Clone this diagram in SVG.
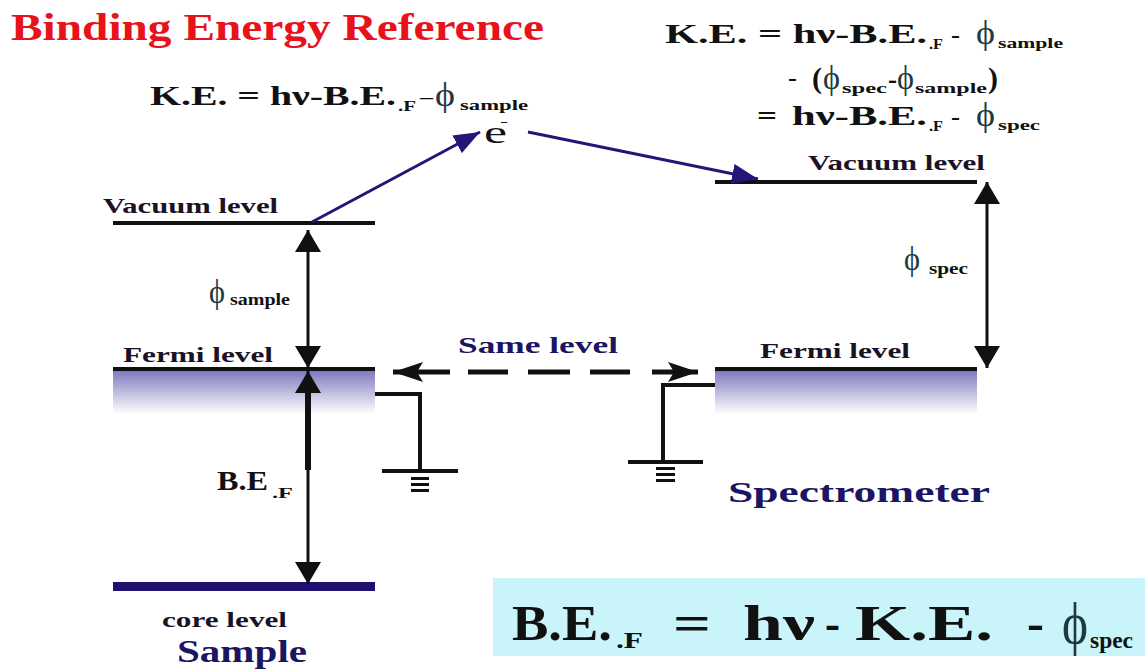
<svg xmlns="http://www.w3.org/2000/svg" width="1145" height="669" viewBox="0 0 1145 669">
<style>
.t{font-family:"Liberation Serif","Times New Roman",serif;font-weight:bold;fill:#111}
.r{font-weight:normal}
.phi{font-family:"Liberation Serif","DejaVu Serif","Times New Roman",serif;font-weight:normal;fill:#1f3a3e}
.navy{fill:#1b1562}
.lbl{fill:#1c1226}
.lvl{stroke:#111;stroke-width:4;fill:none}
.gnd{stroke:#111;stroke-width:4;fill:none}
.gb{stroke:#111;stroke-width:3}
.dbl{stroke:#111;stroke-width:3;marker-start:url(#ak);marker-end:url(#ak)}
.nav{stroke:#231679;stroke-width:3;marker-end:url(#an)}
</style>
<defs>
<linearGradient id="band" x1="0" y1="0" x2="0" y2="1">
<stop offset="0" stop-color="#7f7ac0"/>
<stop offset="1" stop-color="#ffffff"/>
</linearGradient>
<marker id="ak" viewBox="0 0 22 26" refX="22" refY="13" markerWidth="22" markerHeight="26" markerUnits="userSpaceOnUse" orient="auto-start-reverse"><path d="M0,0 L22,13 L0,26 Z" fill="#111"/></marker>
<marker id="an" viewBox="0 0 26 20" refX="26" refY="10" markerWidth="26" markerHeight="20" markerUnits="userSpaceOnUse" orient="auto"><path d="M0,0 L26,10 L0,20 Z" fill="#231679"/></marker>
<marker id="as" viewBox="0 0 30 20" refX="30" refY="10" markerWidth="30" markerHeight="20" markerUnits="userSpaceOnUse" orient="auto-start-reverse"><path d="M0,0 L30,10 L0,20 L6,10 Z" fill="#111"/></marker>
</defs>
<rect width="1145" height="669" fill="#fff"/>

<g id="title">
<text class="t" x="11" y="40" font-size="38" style="fill:#e8121b" textLength="533" lengthAdjust="spacingAndGlyphs">Binding Energy Reference</text>
</g>

<g id="formula-left">
<text class="t" x="150" y="105" font-size="27" textLength="246" lengthAdjust="spacingAndGlyphs">K.E. = hν-B.E.</text>
<text class="t" x="398" y="111" font-size="15" textLength="18" lengthAdjust="spacingAndGlyphs">.F</text>
<text class="t r" x="420" y="105" font-size="27" textLength="13" lengthAdjust="spacingAndGlyphs">–</text>
<text class="phi" x="435" y="106" font-size="34" textLength="20" lengthAdjust="spacingAndGlyphs">ϕ</text>
<text class="t" x="460" y="110" font-size="15" textLength="68" lengthAdjust="spacingAndGlyphs">sample</text>
</g>

<g id="formula-right">
<text class="t" x="665" y="43" font-size="27" textLength="262" lengthAdjust="spacingAndGlyphs">K.E. = hν-B.E.</text>
<text class="t" x="929" y="49" font-size="15" textLength="14" lengthAdjust="spacingAndGlyphs">.F</text>
<text class="t r" x="951" y="43" font-size="27" textLength="9" lengthAdjust="spacingAndGlyphs">-</text>
<text class="phi" x="976" y="44" font-size="34" textLength="19" lengthAdjust="spacingAndGlyphs">ϕ</text>
<text class="t" x="998" y="48" font-size="15" textLength="65" lengthAdjust="spacingAndGlyphs">sample</text>

<text class="t r" x="788" y="86" font-size="27" textLength="9" lengthAdjust="spacingAndGlyphs">-</text>
<text class="t" x="812" y="88" font-size="29" textLength="10" lengthAdjust="spacingAndGlyphs">(</text>
<text class="phi" x="823" y="89" font-size="34" textLength="17" lengthAdjust="spacingAndGlyphs">ϕ</text>
<text class="t" x="842" y="93" font-size="15" textLength="45" lengthAdjust="spacingAndGlyphs">spec</text>
<text class="t" x="888" y="88" font-size="27" textLength="9" lengthAdjust="spacingAndGlyphs">-</text>
<text class="phi" x="897" y="89" font-size="34" textLength="17" lengthAdjust="spacingAndGlyphs">ϕ</text>
<text class="t" x="915" y="93" font-size="15" textLength="72" lengthAdjust="spacingAndGlyphs">sample</text>
<text class="t" x="988" y="88" font-size="29" textLength="10" lengthAdjust="spacingAndGlyphs">)</text>

<text class="t" x="757" y="125" font-size="27" textLength="20" lengthAdjust="spacingAndGlyphs">=</text>
<text class="t" x="792" y="125" font-size="27" textLength="135" lengthAdjust="spacingAndGlyphs">hν-B.E.</text>
<text class="t" x="929" y="131" font-size="15" textLength="14" lengthAdjust="spacingAndGlyphs">.F</text>
<text class="t r" x="951" y="125" font-size="27" textLength="9" lengthAdjust="spacingAndGlyphs">-</text>
<text class="phi" x="976" y="126" font-size="34" textLength="19" lengthAdjust="spacingAndGlyphs">ϕ</text>
<text class="t" x="998" y="130" font-size="15" textLength="42" lengthAdjust="spacingAndGlyphs">spec</text>
</g>

<g id="electron">
<text class="t r" x="484" y="143" font-size="32" textLength="23" lengthAdjust="spacingAndGlyphs">e</text>
<text class="t r" x="500" y="126" font-size="12" textLength="8" lengthAdjust="spacingAndGlyphs">-</text>
</g>

<g id="sample-vacuum">
<text class="t lbl" x="103" y="213" font-size="21" textLength="175" lengthAdjust="spacingAndGlyphs">Vacuum level</text>
<line class="lvl" x1="113" y1="223" x2="375" y2="223"/>
</g>

<g id="sample-fermi">
<text class="t lbl" x="123" y="362" font-size="21" textLength="150" lengthAdjust="spacingAndGlyphs">Fermi level</text>
<rect x="113" y="371" width="262" height="43" fill="url(#band)"/>
<line class="lvl" x1="113" y1="369" x2="375" y2="369"/>
</g>

<g id="sample-core">
<rect x="113" y="582" width="262" height="9" fill="#1e1170"/>
<text class="t lbl" x="162" y="627" font-size="20" textLength="125" lengthAdjust="spacingAndGlyphs">core level</text>
<text class="t navy" x="177" y="662" font-size="32" textLength="130" lengthAdjust="spacingAndGlyphs">Sample</text>
</g>

<g id="spec-vacuum">
<text class="t lbl" x="808" y="170" font-size="21" textLength="177" lengthAdjust="spacingAndGlyphs">Vacuum level</text>
<line class="lvl" x1="715" y1="182" x2="977" y2="182"/>
</g>

<g id="spec-fermi">
<text class="t lbl" x="760" y="358" font-size="21" textLength="150" lengthAdjust="spacingAndGlyphs">Fermi level</text>
<rect x="715" y="371" width="262" height="43" fill="url(#band)"/>
<line class="lvl" x1="715" y1="369" x2="977" y2="369"/>
<text class="t navy" x="728" y="502" font-size="30" textLength="262" lengthAdjust="spacingAndGlyphs">Spectrometer</text>
</g>

<g id="ground-sample">
<polyline class="gnd" points="375,394 420,394 420,471"/>
<line class="gnd" x1="382" y1="471" x2="458" y2="471"/>
<line class="gb" x1="411" y1="478.5" x2="429" y2="478.5"/>
<line class="gb" x1="411" y1="484.5" x2="429" y2="484.5"/>
<line class="gb" x1="411" y1="490.5" x2="429" y2="490.5"/>
</g>

<g id="ground-spec">
<polyline class="gnd" points="715,385 663,385 663,462"/>
<line class="gnd" x1="628" y1="462" x2="703" y2="462"/>
<line class="gb" x1="656" y1="468.5" x2="675" y2="468.5"/>
<line class="gb" x1="656" y1="474.5" x2="675" y2="474.5"/>
<line class="gb" x1="656" y1="480.5" x2="675" y2="480.5"/>
</g>

<g id="labels">
<text class="phi" x="209" y="303" font-size="34" textLength="16" lengthAdjust="spacingAndGlyphs">ϕ</text>
<text class="t" x="230" y="305" font-size="16" textLength="60" lengthAdjust="spacingAndGlyphs">sample</text>
<text class="phi" x="904" y="270" font-size="34" textLength="16" lengthAdjust="spacingAndGlyphs">ϕ</text>
<text class="t" x="929" y="274" font-size="16" textLength="39" lengthAdjust="spacingAndGlyphs">spec</text>
<text class="t" x="217" y="490" font-size="27" textLength="51" lengthAdjust="spacingAndGlyphs">B.E</text>
<text class="t" x="272" y="498" font-size="15" textLength="21" lengthAdjust="spacingAndGlyphs">.F</text>
<text class="t navy" x="458" y="353" font-size="24" textLength="160" lengthAdjust="spacingAndGlyphs">Same level</text>
</g>

<g id="connectors">
<line class="nav" x1="312" y1="222" x2="480" y2="132"/>
<line class="nav" x1="528" y1="132" x2="758" y2="179"/>
<line class="dbl" x1="308" y1="230" x2="308" y2="368"/>
<line class="dbl" x1="987" y1="182" x2="987" y2="368"/>
<line class="dbl" x1="308" y1="371" x2="308" y2="584"/>
<line x1="308" y1="392" x2="308" y2="470" stroke="#111" stroke-width="6"/>
<path d="M393,372 H450 M468,372 H508 M528,372 H570 M590,372 H630 M652,372 H698" stroke="#111" stroke-width="5" fill="none" marker-start="url(#as)" marker-end="url(#as)"/>
</g>

<g id="result-box">
<rect x="493" y="578" width="652" height="78" fill="#c8f4fa"/>
<text class="t" x="512" y="640" font-size="50" textLength="100" lengthAdjust="spacingAndGlyphs">B.E.</text>
<text class="t" x="616" y="648" font-size="24" textLength="27" lengthAdjust="spacingAndGlyphs">.F</text>
<text class="t" x="673" y="640" font-size="50" textLength="38" lengthAdjust="spacingAndGlyphs">=</text>
<text class="t" x="743" y="640" font-size="50" textLength="72" lengthAdjust="spacingAndGlyphs">hν</text>
<text class="t" x="825" y="640" font-size="50" textLength="15" lengthAdjust="spacingAndGlyphs">-</text>
<text class="t" x="855" y="640" font-size="50" textLength="138" lengthAdjust="spacingAndGlyphs">K.E.</text>
<text class="t" x="1027" y="640" font-size="50" textLength="17" lengthAdjust="spacingAndGlyphs">-</text>
<text class="phi" x="1062" y="643" font-size="60" textLength="26" lengthAdjust="spacingAndGlyphs">ϕ</text>
<text class="t" x="1090" y="648" font-size="24" textLength="43" lengthAdjust="spacingAndGlyphs">spec</text>
</g>
</svg>
